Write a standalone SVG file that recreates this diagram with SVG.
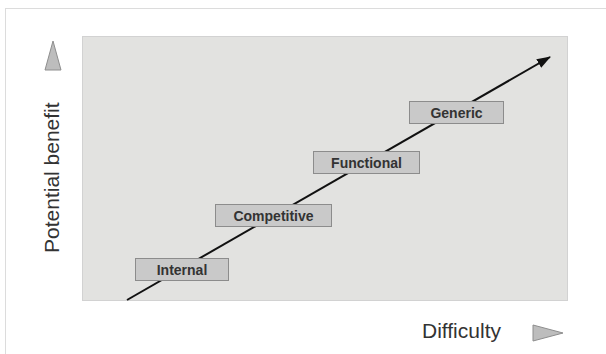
<svg xmlns="http://www.w3.org/2000/svg" width="606" height="354" viewBox="0 0 606 354">
<style>
.box{fill:#c9c9c9;stroke:#8c8c8c;stroke-width:1}
.lbl{font-family:"Liberation Sans",Arial,sans-serif;font-weight:bold;font-size:14px;fill:#333;text-anchor:middle}
.axis{font-family:"Liberation Sans",Arial,sans-serif;font-size:21px;fill:#333}
.tri{fill:#bdbdbd;stroke:#8e8e8e;stroke-width:1}
</style>
<defs>
<marker id="ah" markerWidth="14" markerHeight="10" refX="13" refY="5" orient="auto" markerUnits="userSpaceOnUse">
<path d="M0,0 L14,5 L0,10 Z" fill="#111"/>
</marker>
</defs>
<rect x="0" y="0" width="606" height="354" fill="#fff"/>
<rect x="5.5" y="8.5" width="610" height="360" fill="none" stroke="#dcdcdc" stroke-width="1"/>
<rect id="panel" x="82.5" y="36.5" width="485" height="264" fill="#e2e2e0" stroke="#d2d2d2" stroke-width="1"/>
<g id="connectors">
<line x1="127" y1="300" x2="550" y2="57" stroke="#111" stroke-width="2" marker-end="url(#ah)"/>
</g>
<g id="internal"><rect class="box" x="135.5" y="258.5" width="93" height="22"/><text class="lbl" x="182" y="274.5">Internal</text></g>
<g id="competitive"><rect class="box" x="215.5" y="204.5" width="116" height="22"/><text class="lbl" x="273.5" y="220.5">Competitive</text></g>
<g id="functional"><rect class="box" x="313.5" y="151.5" width="106" height="22"/><text class="lbl" x="366.5" y="167.5">Functional</text></g>
<g id="generic"><rect class="box" x="409.5" y="101.5" width="94" height="22"/><text class="lbl" x="456.5" y="117.5">Generic</text></g>
<g id="y-axis">
<polygon class="tri" points="53,41 61,70 45,70"/>
<text class="axis" transform="translate(59,253) rotate(-90)">Potential benefit</text>
</g>
<g id="x-axis">
<text class="axis" x="422" y="338">Difficulty</text>
<polygon class="tri" points="533,325 563,333 533,341"/>
</g>
</svg>
